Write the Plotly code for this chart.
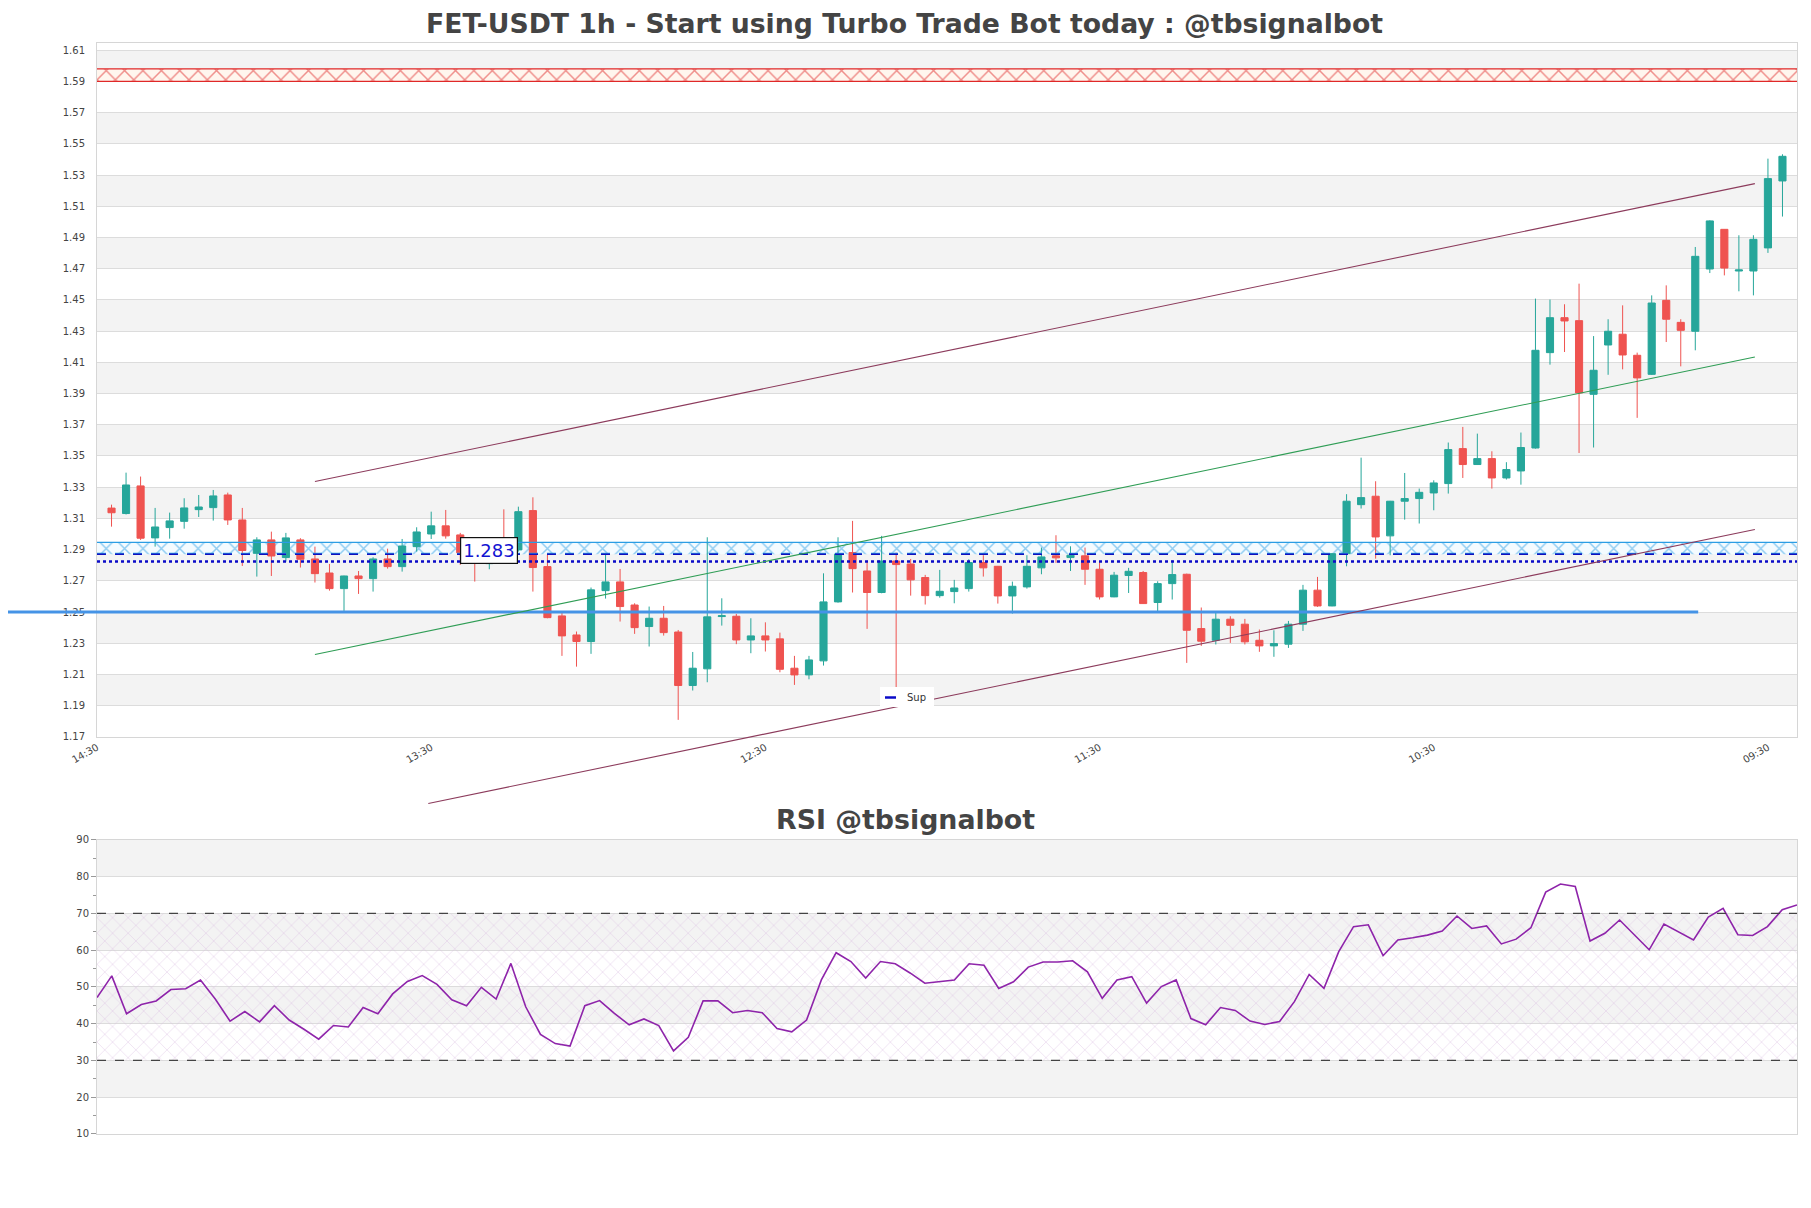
import plotly.graph_objects as go

# ---------------- data ----------------
idx = list(range(1, 117))
open_ = [1.3166,1.3131,1.3308,1.2975,1.3041,1.3081,1.3156,1.3169,1.3250,1.3090,
         1.2876,1.2962,1.2849,1.2962,1.2840,1.2750,1.2650,1.2731,1.2714,1.2840,
         1.2791,1.2919,1.3000,1.3052,1.2994,1.2870,1.2810,1.2900,1.2898,1.3150,
         1.2791,1.2475,1.2353,1.2311,1.2637,1.2693,1.2545,1.2407,1.2460,1.2372,
         1.2029,1.2136,1.2471,1.2473,1.2321,1.2347,1.2328,1.2140,1.2097,1.2187,
         1.2565,1.2881,1.2763,1.2625,1.2827,1.2808,1.2721,1.2605,1.2631,1.2650,
         1.2817,1.2793,1.2603,1.2661,1.2783,1.2860,1.2849,1.2860,1.2774,1.2597,
         1.2734,1.2753,1.2561,1.2682,1.2742,1.2394,1.2319,1.2454,1.2422,1.2319,
         1.2283,1.2294,1.2422,1.2640,1.2539,1.2874,1.3188,1.3242,1.2988,1.3210,
         1.3227,1.3263,1.3323,1.3547,1.3445,1.3483,1.3359,1.3404,1.3551,1.4162,
         1.4386,1.4367,1.3895,1.4211,1.4280,1.4145,1.4023,1.4497,1.4356,1.4299,
         1.4698,1.4952,1.4685,1.4685,1.4833,1.5262]
high = [1.3188,1.3393,1.3368,1.3167,1.3137,1.3229,1.3250,1.3282,1.3265,1.3167,
        1.2979,1.3015,1.3007,1.2973,1.2919,1.2808,1.2733,1.2763,1.2851,1.2906,
        1.2968,1.3043,1.3143,1.3154,1.3007,1.2890,1.2870,1.3158,1.3175,1.3235,
        1.2866,1.2503,1.2375,1.2657,1.2876,1.2776,1.2556,1.2535,1.2539,1.2385,
        1.2244,1.2979,1.2588,1.2488,1.2460,1.2434,1.2368,1.2219,1.2219,1.2748,
        1.2979,1.3084,1.2829,1.2988,1.2881,1.2840,1.2738,1.2770,1.2706,1.2838,
        1.2864,1.2795,1.2695,1.2864,1.2913,1.2992,1.2921,1.2913,1.2821,1.2757,
        1.2783,1.2763,1.2697,1.2832,1.2746,1.2529,1.2494,1.2473,1.2456,1.2388,
        1.2383,1.2443,1.2674,1.2725,1.2876,1.3255,1.3489,1.3338,1.3212,1.3391,
        1.3291,1.3344,1.3586,1.3686,1.3643,1.3530,1.3460,1.3650,1.4508,1.4502,
        1.4472,1.4604,1.4268,1.4376,1.4465,1.4162,1.4529,1.4593,1.4376,1.4839,
        1.5010,1.4954,1.4914,1.4914,1.5405,1.5433]
low = [1.3047,1.3125,1.2962,1.2919,1.2970,1.3034,1.3109,1.3086,1.3058,1.2795,
       1.2727,1.2731,1.2823,1.2785,1.2689,1.2637,1.2507,1.2616,1.2631,1.2778,
       1.2759,1.2887,1.2968,1.2970,1.2802,1.2695,1.2774,1.2808,1.2887,1.2631,
       1.2460,1.2219,1.2150,1.2232,1.2586,1.2439,1.2360,1.2279,1.2349,1.1809,
       1.1997,1.2050,1.2413,1.2294,1.2236,1.2247,1.2114,1.2033,1.2069,1.2157,
       1.2560,1.2625,1.2392,1.2620,1.2000,1.2605,1.2548,1.2592,1.2556,1.2631,
       1.2727,1.2554,1.2490,1.2650,1.2742,1.2815,1.2763,1.2674,1.2580,1.2595,
       1.2622,1.2552,1.2501,1.2580,1.2174,1.2283,1.2292,1.2302,1.2292,1.2245,
       1.2213,1.2270,1.2379,1.2533,1.2537,1.2793,1.3163,1.2842,1.2864,1.3092,
       1.3067,1.3152,1.3259,1.3359,1.3443,1.3291,1.3349,1.3316,1.3547,1.4085,
       1.4166,1.3519,1.3554,1.4020,1.4055,1.3744,1.4019,1.4230,1.4074,1.4177,
       1.4672,1.4657,1.4555,1.4529,1.4801,1.5034]
close = [1.3136,1.3314,1.2973,1.3045,1.3084,1.3167,1.3173,1.3244,1.3090,1.2894,
         1.2962,1.2859,1.2975,1.2838,1.2746,1.2650,1.2731,1.2714,1.2840,1.2791,
         1.2923,1.3013,1.3052,1.2988,1.2879,1.2850,1.2840,1.2840,1.3143,1.2785,
         1.2464,1.2347,1.2311,1.2642,1.2693,1.2535,1.2400,1.2460,1.2368,1.2029,
         1.2140,1.2469,1.2476,1.2321,1.2347,1.2321,1.2133,1.2097,1.2193,1.2565,
         1.2872,1.2778,1.2625,1.2827,1.2804,1.2706,1.2605,1.2633,1.2654,1.2817,
         1.2783,1.2603,1.2665,1.2793,1.2853,1.2847,1.2864,1.2774,1.2597,1.2736,
         1.2761,1.2554,1.2682,1.2740,1.2383,1.2313,1.2454,1.2415,1.2309,1.2283,
         1.2298,1.2422,1.2640,1.2539,1.2874,1.3210,1.3233,1.2981,1.3210,1.3227,
         1.3267,1.3327,1.3541,1.3445,1.3483,1.3359,1.3413,1.3554,1.4177,1.4386,
         1.4365,1.3904,1.4049,1.4299,1.4147,1.4000,1.4480,1.4376,1.4305,1.4779,
         1.5006,1.4704,1.4692,1.4888,1.5277,1.5420]

rsi_x = list(range(0, 116))
rsi = [47.1,53.0,42.7,45.2,46.2,49.3,49.5,51.9,46.7,40.7,
       43.3,40.5,44.9,41.0,38.5,35.8,39.5,39.1,44.4,42.7,
       48.1,51.5,53.1,50.7,46.5,44.9,49.9,46.7,56.4,44.6,
       37.1,34.6,33.9,44.9,46.3,42.8,39.7,41.3,39.5,32.6,
       36.3,46.2,46.2,43.0,43.6,43.0,38.7,37.8,41.0,51.9,
       59.3,56.9,52.4,56.9,56.3,53.8,51.0,51.5,51.9,56.3,
       55.9,49.6,51.4,55.4,56.8,56.8,57.1,54.1,46.9,51.9,
       52.8,45.6,50.1,51.9,41.4,39.7,44.4,43.6,40.7,39.8,
       40.6,46.0,53.4,49.6,59.6,66.4,66.9,58.5,62.8,63.4,
       64.1,65.2,69.3,65.9,66.6,61.7,63.0,66.1,75.8,78.0,
       77.3,62.5,64.6,68.2,64.1,60.1,67.1,64.9,62.8,69.0,
       71.4,64.2,64.0,66.4,71.0,72.3]

x_tickvals = [0, 23, 46, 69, 92, 115]
x_ticktext = ['14:30', '13:30', '12:30', '11:30', '10:30', '09:30']
price_ticks = [1.17, 1.19, 1.21, 1.23, 1.25, 1.27, 1.29, 1.31, 1.33, 1.35, 1.37, 1.39,
               1.41, 1.43, 1.45, 1.47, 1.49, 1.51, 1.53, 1.55, 1.57, 1.59, 1.61]
rsi_ticks = [10, 20, 30, 40, 50, 60, 70, 80, 90]

res_zone = [1.590, 1.598]
sup_zone = [1.2870, 1.2946]
sup_dotted = 1.2824
sup_label = '1.283'
sup_label_pos = [27, 1.2893]
sup_line = 1.25
sup_line_x = [-6.2, 110.2]
upper_trend = [[15.0, 1.3336], [114.1, 1.5245]]
mid_trend = [[15.0, 1.2228], [114.1, 1.4134]]
lower_trend = [[22.8, 1.1273], [114.1, 1.3029]]

# ---------------- layout geometry ----------------
OFF = 8                      # page body margin
W, H = 1811 - OFF, 1208 - OFF
ML, MR, MT, MB = 97 - OFF, 14, 43 - OFF, 74
XR = [0, 117]
YR = [1.17, 1.6146]
main_dom = [0.364, 1.0]
rsi_dom = [0.0, 0.2696]
plot_h = H - MT - MB
plot_w = W - ML - MR

def px(xv):
    return (xv - XR[0]) / (XR[1] - XR[0])

def py(yv):
    return main_dom[0] + (yv - YR[0]) / (YR[1] - YR[0]) * (main_dom[1] - main_dom[0])

def ppx(fx):  # screen pixel x -> paper
    return (fx - OFF - ML) / plot_w

def ppy(fy):  # screen pixel y -> paper
    return (OFF + H - MB - fy) / plot_h

GREEN = '#26a69a'
RED = '#ef5350'
FONT = 'DejaVu Sans'

fig = go.Figure()

# hatched zones as bars (drawn under candles)
fig.add_trace(go.Bar(x=[(XR[0] + XR[1]) / 2], y=[res_zone[1] - res_zone[0]], base=[res_zone[0]],
                     width=[XR[1] - XR[0]], xaxis='x', yaxis='y',
                     marker=dict(color='#fff4ea', line=dict(width=0),
                                 pattern=dict(shape='x', fgcolor='#e02828', bgcolor='#fff6ee',
                                              size=13, solidity=0.22)),
                     hoverinfo='skip', showlegend=False))
fig.add_trace(go.Bar(x=[(XR[0] + XR[1]) / 2], y=[sup_zone[1] - sup_zone[0]], base=[sup_zone[0]],
                     width=[XR[1] - XR[0]], xaxis='x', yaxis='y',
                     marker=dict(color='rgba(255,255,255,0)', line=dict(width=0),
                                 pattern=dict(shape='x', fgcolor='#2a9de4', bgcolor='#f4fbff',
                                              size=13, solidity=0.22)),
                     hoverinfo='skip', showlegend=False))
fig.add_trace(go.Bar(x=[57.5], y=[40], base=[30], width=[115], xaxis='x2', yaxis='y2',
                     marker=dict(color='rgba(255,255,255,0)', line=dict(width=0),
                                 pattern=dict(shape='x', fgcolor='#d9b8e0', bgcolor='rgba(255,255,255,0)',
                                              size=11, solidity=0.13)),
                     hoverinfo='skip', showlegend=False))

fig.add_trace(go.Candlestick(x=idx, open=open_, high=high, low=low, close=close,
                             increasing=dict(line=dict(color=GREEN, width=1), fillcolor=GREEN),
                             decreasing=dict(line=dict(color=RED, width=1), fillcolor=RED),
                             whiskerwidth=0, showlegend=False, xaxis='x', yaxis='y'))

# dotted support line
fig.add_trace(go.Scatter(x=XR, y=[sup_dotted, sup_dotted], mode='lines',
                         line=dict(color='#0b0bc8', width=2.5, dash='dot'),
                         hoverinfo='skip', showlegend=False, xaxis='x', yaxis='y'))

fig.add_trace(go.Scatter(x=rsi_x, y=rsi, mode='lines', line=dict(color='#8e24aa', width=1.6),
                         hoverinfo='skip', showlegend=False, xaxis='x2', yaxis='y2'))

shapes = []
# alternating bands main
for i in range(1, len(price_ticks) - 1, 2):
    shapes.append(dict(type='rect', xref='x', yref='y', x0=XR[0], x1=XR[1],
                       y0=price_ticks[i], y1=price_ticks[i + 1],
                       fillcolor='#f3f3f3', line=dict(width=0), layer='below'))
# alternating bands rsi
for i in range(1, len(rsi_ticks) - 1, 2):
    shapes.append(dict(type='rect', xref='x2', yref='y2', x0=0, x1=115,
                       y0=rsi_ticks[i], y1=rsi_ticks[i + 1],
                       fillcolor='#f3f3f3', line=dict(width=0), layer='below'))
# zone edges
for yv in res_zone:
    shapes.append(dict(type='line', xref='x', yref='y', x0=XR[0], x1=XR[1], y0=yv, y1=yv,
                       line=dict(color='#e02828', width=1.2)))
shapes.append(dict(type='line', xref='x', yref='y', x0=XR[0], x1=XR[1], y0=sup_zone[1], y1=sup_zone[1],
                   line=dict(color='#2a9de4', width=1.2)))
shapes.append(dict(type='line', xref='x', yref='y', x0=XR[0], x1=XR[1], y0=sup_zone[0] + 0.0006,
                   y1=sup_zone[0] + 0.0006, line=dict(color='#2a9de4', width=1.2, dash='dash')))
shapes.append(dict(type='line', xref='x', yref='y', x0=XR[0], x1=XR[1], y0=sup_zone[0], y1=sup_zone[0],
                   line=dict(color='#1010c0', width=1.5, dash='dash')))
# thick support line (extends left outside plot)
shapes.append(dict(type='line', xref='paper', yref='paper', x0=px(sup_line_x[0]), x1=px(sup_line_x[1]),
                   y0=py(sup_line), y1=py(sup_line), line=dict(color='#4593e6', width=3.2)))
# trend lines
for tl, col in [(upper_trend, '#8c3b5c'), (mid_trend, '#2f9d55'), (lower_trend, '#8c3b5c')]:
    shapes.append(dict(type='line', xref='paper', yref='paper',
                       x0=px(tl[0][0]), y0=py(tl[0][1]), x1=px(tl[1][0]), y1=py(tl[1][1]),
                       line=dict(color=col, width=1.1)))
# RSI 70 / 30 dashed
for yv in [70, 30]:
    shapes.append(dict(type='line', xref='x2', yref='y2', x0=0, x1=115, y0=yv, y1=yv,
                       line=dict(color='#444444', width=1.3, dash='dash')))
# manual legend
shapes.append(dict(type='rect', xref='paper', yref='paper', x0=ppx(880), x1=ppx(934),
                   y0=ppy(707), y1=ppy(687), fillcolor='white', line=dict(width=0)))
shapes.append(dict(type='line', xref='paper', yref='paper', x0=ppx(885), x1=ppx(896),
                   y0=ppy(697.5), y1=ppy(697.5), line=dict(color='#0b0bc8', width=2.5)))

annotations = [
    dict(x=sup_label_pos[0], y=sup_label_pos[1], xref='x', yref='y', text=sup_label, showarrow=False,
         font=dict(family=FONT, size=18, color='#1414d2'), bgcolor='white', bordercolor='#111',
         borderwidth=1.2, borderpad=2),
    dict(x=ppx(905), y=ppy(819), xref='paper', yref='paper', text='RSI @tbsignalbot', showarrow=False,
         font=dict(family=FONT, size=26.8, color='#444444', weight='bold'), xanchor='center', yanchor='middle'),
    dict(x=ppx(905), y=ppy(697.5), xref='paper', yref='paper', text='Sup', showarrow=False,
         font=dict(family=FONT, size=10, color='#333'), xanchor='left', yanchor='middle'),
]

fig.update_layout(
    width=W, height=H,
    margin=dict(l=ML, r=MR, t=MT, b=MB, pad=0),
    paper_bgcolor='white', plot_bgcolor='white',
    barmode='overlay', showlegend=False,
    title=dict(text='FET-USDT 1h - Start using Turbo Trade Bot today : @tbsignalbot',
               x=(904.5 - OFF) / W, xref='container', xanchor='center',
               y=1 - (24 - OFF) / H, yref='container', yanchor='middle',
               font=dict(family=FONT, size=26.7, color='#444444', weight='bold')),
    xaxis=dict(domain=[0, 1], range=XR, anchor='y', tickmode='array', tickvals=x_tickvals,
               ticktext=x_ticktext, tickangle=-30, showgrid=False, zeroline=False,
               tickfont=dict(family=FONT, size=10, color='#444'),
               showline=True, mirror=True, linecolor='#d6d6d6', linewidth=1,
               rangeslider=dict(visible=False), ticks=''),
    yaxis=dict(domain=main_dom, range=YR, anchor='x', tickmode='array', tickvals=price_ticks,
               ticktext=['%.2f' % v for v in price_ticks], showgrid=True, gridcolor='#dcdcdc',
               gridwidth=1, zeroline=False, tickfont=dict(family=FONT, size=10, color='#444'),
               showline=True, mirror=True, linecolor='#d6d6d6', linewidth=1, ticks='',
               ticklabelstandoff=9),
    xaxis2=dict(domain=[0, 1], range=[0, 115], anchor='y2', showticklabels=False, showgrid=False,
                zeroline=False, showline=True, mirror=True, linecolor='#d6d6d6', linewidth=1, ticks=''),
    yaxis2=dict(domain=rsi_dom, range=[10, 90], anchor='x2', tickmode='array', tickvals=rsi_ticks,
                showgrid=True, gridcolor='#dcdcdc', gridwidth=1, zeroline=False,
                tickfont=dict(family=FONT, size=10, color='#444'),
                showline=True, mirror=True, linecolor='#d6d6d6', linewidth=1,
                ticks='outside', ticklen=5, tickcolor='#999', tickwidth=1,
                minor=dict(ticks='outside', dtick=5, tick0=5, ticklen=3, tickcolor='#999', showgrid=False)),
    shapes=shapes, annotations=annotations,
)

fig.write_html('out.html')
